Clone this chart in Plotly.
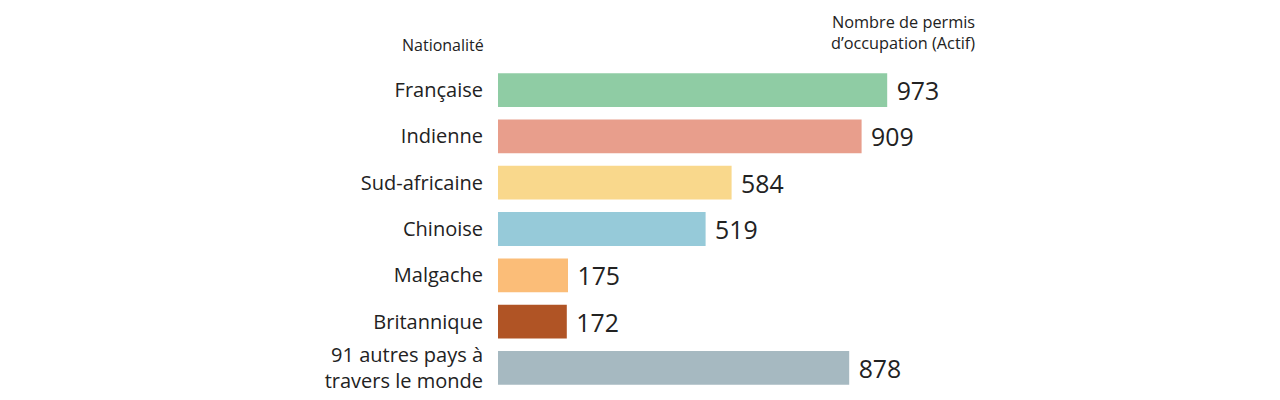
import plotly.graph_objects as go

categories = ["Française", "Indienne", "Sud-africaine", "Chinoise", "Malgache", "Britannique",
              "91 autres pays à<br>travers le monde"]
values = [973, 909, 584, 519, 175, 172, 878]
colors = ["#8fcca4", "#e89e8c", "#f9d88c", "#96cad9", "#fbbd78", "#b05425", "#a6b9c1"]

FONT = "Open Sans, Lato, sans-serif"

fig = go.Figure(go.Bar(
    x=values, y=categories, orientation="h",
    marker=dict(color=colors, line=dict(width=0)),
    text=["\u00a0" + str(v) for v in values], textposition="outside",
    textfont=dict(size=25, color="#222222", family=FONT),
    cliponaxis=False,
))

fig.update_layout(
    width=1280, height=400,
    margin=dict(l=490, r=390, t=59, b=17),
    paper_bgcolor="white", plot_bgcolor="white",
    bargap=0.27, showlegend=False,
    font=dict(family=FONT, color="#222222"),
    xaxis=dict(range=[0, 1000], visible=False, fixedrange=True),
    yaxis=dict(autorange="reversed", showgrid=False, zeroline=False, showline=False,
               ticks="", tickfont=dict(size=20, color="#222222", family=FONT),
               ticklabelstandoff=14),
    annotations=[
        dict(text="Nationalité", xref="paper", yref="paper", x=-0.03, y=1.0, yshift=9,
             xanchor="right", yanchor="bottom", showarrow=False,
             font=dict(size=16, color="#222222", family=FONT), align="right"),
        dict(text="Nombre de permis<br>d’occupation (Actif)", xref="paper", yref="paper",
             x=1.197, y=1.0, yshift=11, xanchor="right", yanchor="bottom", showarrow=False,
             font=dict(size=16.3, color="#222222", family=FONT), align="right"),
    ],
)

fig.write_html("out.html")
